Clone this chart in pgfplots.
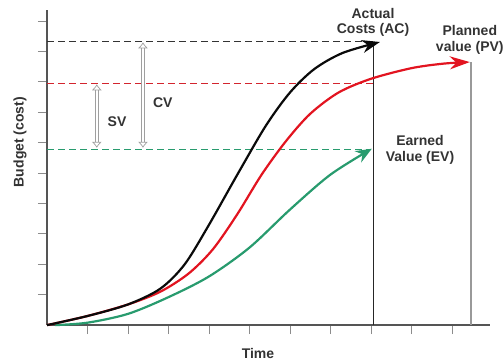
\documentclass[border=0pt]{standalone}
\usepackage{pgfplots}
\pgfplotsset{compat=1.18}
\usepackage{fontspec}
\setmainfont{Liberation Sans}
\usetikzlibrary{arrows.meta}
\definecolor{acblack}{RGB}{10,10,10}
\definecolor{pvred}{RGB}{226,20,32}
\definecolor{evgreen}{RGB}{40,155,110}
\definecolor{axgray}{RGB}{85,85,85}
\begin{document}
\begin{tikzpicture}
\begin{axis}[
  scale only axis,
  width=443pt, height=315pt,
  xmin=0, xmax=10.94, ymin=0, ymax=10.36,
  axis x line=bottom, axis y line=left,
  axis line style={-, axgray, line width=1.8pt},
  xtick={1,...,10}, ytick={1,...,10},
  xticklabels={}, yticklabels={},
  tick align=outside,
  major tick length=9pt,
  tick style={gray!90, line width=0.9pt},
  clip=false,
  font=\bfseries\fontsize{14}{15.5}\selectfont,
]
% reference dashed lines
\addplot[black!80, line width=1pt, dash pattern=on 7pt off 4pt] coordinates {(0,9.34) (8.05,9.34)};
\addplot[pvred!85!gray, line width=1pt, dash pattern=on 7pt off 4pt] coordinates {(0,7.96) (8.05,7.96)};
\addplot[evgreen, line width=1pt, dash pattern=on 7pt off 4pt] coordinates {(0,5.79) (8.0,5.79)};
% vertical lines
\addplot[black!85, line width=0.9pt] coordinates {(8.05,0) (8.05,9.31)};
\addplot[gray!80, line width=1.3pt] coordinates {(10.47,0) (10.47,8.65)};
% Earned value
\addplot[evgreen, line width=2.2pt, smooth, -{Stealth[length=16pt,width=13pt]}] coordinates {
(0.2,0) (1.0,0.08) (2.0,0.37) (3.0,0.92) (4.0,1.6) (5.0,2.55) (6.0,3.8) (7.0,4.95) (8.02,5.80)};
% Planned value
\addplot[pvred, line width=2.2pt, smooth, -{Stealth[length=20pt,width=13pt]}] coordinates {
(0,0) (1.0,0.3) (2.0,0.68) (2.8,1.1) (3.5,1.7) (4.1,2.5) (4.7,3.65) (5.3,4.95) (5.9,6.05) (6.5,6.95) (7.2,7.65) (8.0,8.1) (9.0,8.45) (9.8,8.6) (10.44,8.65)};
% Actual cost
\addplot[acblack, line width=2.2pt, smooth, -{Stealth[length=18pt,width=13pt]}] coordinates {
(0,0) (1.0,0.3) (2.0,0.68) (2.8,1.2) (3.4,2.0) (4.0,3.3) (4.7,4.95) (5.4,6.55) (6.0,7.65) (6.6,8.42) (7.3,8.95) (8.22,9.31)};
% variance arrows
\draw[gray!75, line width=0.7pt, double=white, double distance=2pt, {Latex[open,length=6pt,width=10pt]}-{Latex[open,length=6pt,width=10pt]}] (axis cs:1.23,7.92) -- (axis cs:1.23,5.83);
\draw[gray!75, line width=0.7pt, double=white, double distance=2pt, {Latex[open,length=6pt,width=10pt]}-{Latex[open,length=6pt,width=10pt]}] (axis cs:2.37,9.30) -- (axis cs:2.37,5.83);
\node[text=black!80] at (axis cs:1.73,6.68) {SV};
\node[text=black!80] at (axis cs:2.86,7.30) {CV};
% labels
\node[align=center, text=black!80] at (axis cs:8.05,9.95) {Actual\\Costs (AC)};
\node[align=center, text=black!80] at (axis cs:10.44,9.375) {Planned\\value (PV)};
\node[align=center, text=black!80] at (axis cs:9.21,5.76) {Earned\\Value (EV)};
\node[text=black!80] at (axis cs:5.21,-0.92) {Time};
\node[text=black!80, rotate=90] at (axis cs:-0.667,6.02) {Budget (cost)};
\coordinate (bbsw) at (axis cs:-1.1605,-1.2171);
\coordinate (bbne) at (axis cs:11.284,10.691);
\end{axis}
\pgfresetboundingbox
\path (bbsw) rectangle (bbne);
\end{tikzpicture}
\end{document}
